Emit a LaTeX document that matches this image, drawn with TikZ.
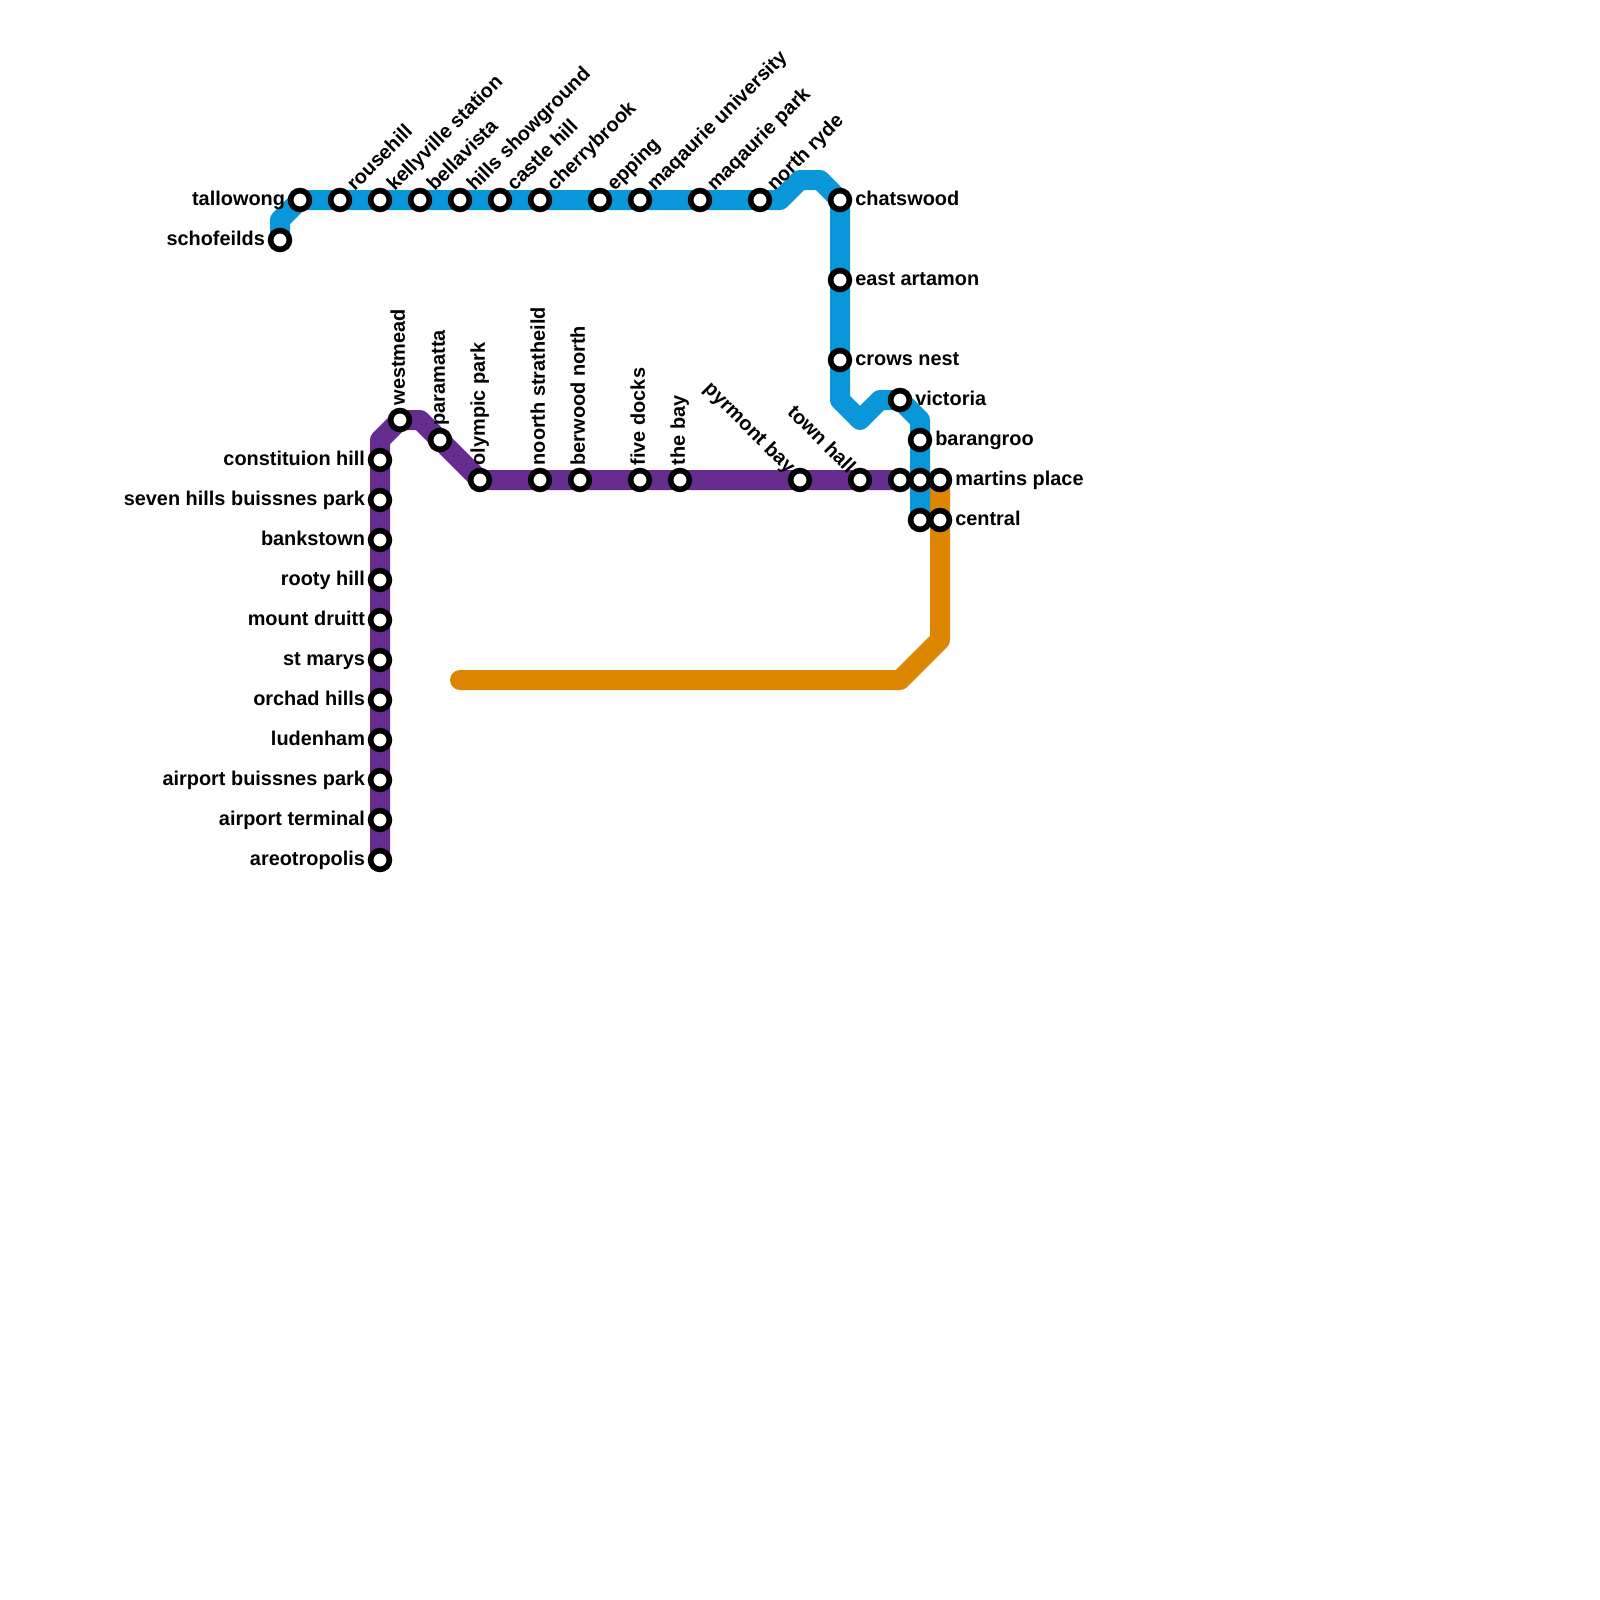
\documentclass[tikz,border=0pt]{standalone}
\usepackage{fontspec}
\setmainfont{Liberation Sans}
\usetikzlibrary{positioning, backgrounds}

\begin{document}
\begin{tikzpicture}[
    x=0.25cm, y=-0.25cm,
    every node/.style={font=\fontsize{7.08}{8}\selectfont\bfseries},
    st/.style={circle, draw=black, fill=white, line width=2pt, minimum size=0.235cm, inner sep=0pt},
    tag/.style={inner sep=0pt, text height=5.4pt, text depth=1.9pt},
    tagl/.style={tag, yshift=-0.15pt},
    tagr/.style={tag, yshift=-0.15pt},
    tagup/.style={tag, rotate=90, anchor=west},
    tagne/.style={tag, rotate=45, anchor=west, xshift=1.3pt, yshift=0.1pt},
    tagnw/.style={tag, rotate=-45, anchor=east},
    route/.style={line width=0.25cm, line join=round, line cap=round}
  ]
  \useasboundingbox (0,0) rectangle (80,80);
  \definecolor{bluel}{HTML}{0A97D9}
  \definecolor{purplel}{HTML}{662C90}
  \definecolor{orangel}{HTML}{DF8600}

  % North line
  \node[st] (tallowong) at (15,10) {};
  \node[tagl, left=0.8pt of tallowong] (tallowongt) {tallowong};
  \node[st] (schofeilds) at (14,12) {};
  \node[tagl, left=0.8pt of schofeilds] (schofeildst) {schofeilds};
  \node[st] (rousehill) at (17,10) {};
  \node[tagne] (rousehillt) at (rousehill.45) {rousehill};
  \node[st] (kellyville) at (19,10) {};
  \node[tagne] (kellyvillet) at (kellyville.45) {kellyville station};
  \node[st] (bellavista) at (21,10) {};
  \node[tagne] (bellavistat) at (bellavista.45) {bellavista};
  \node[st] (hills) at (23,10) {};
  \node[tagne] (hillst) at (hills.45) {hills showground};
  \node[st] (castlehill) at (25,10) {};
  \node[tagne] (castlehillt) at (castlehill.45) {castle hill};
  \node[st] (cherrybrook) at (27,10) {};
  \node[tagne] (cherrybrookt) at (cherrybrook.45) {cherrybrook};
  \node[st] (epping) at (30,10) {};
  \node[tagne] (eppingt) at (epping.45) {epping};
  \node[st] (maquni) at (32,10) {};
  \node[tagne] (maqunit) at (maquni.45) {maqaurie university};
  \node[st] (maqpark) at (35,10) {};
  \node[tagne] (maqparkt) at (maqpark.45) {maqaurie park};
  \node[st] (northryde) at (38,10) {};
  \node[tagne] (northrydet) at (northryde.45) {north ryde};
  \node[st] (chatswood) at (42,10) {};
  \node[tagr, right=0.9pt of chatswood] (chatswoodt) {chatswood};
  \node[st] (eastartamon) at (42,14) {};
  \node[tagr, right=0.9pt of eastartamon] (eastartamont) {east artamon};
  \node[st] (crowsnest) at (42,18) {};
  \node[tagr, right=0.9pt of crowsnest] (crowsnestt) {crows nest};
  \node[st] (victoria) at (45,20) {};
  \node[tagr, right=0.9pt of victoria] (victoriat) {victoria};
  \node[st] (barangroo) at (46,22) {};
  \node[tagr, right=0.9pt of barangroo] (barangroot) {barangroo};
  \node[st] (martinsb) at (46,24) {};
  \node[st] (centralb) at (46,26) {};

  % City line
  \node[st] (martins) at (47,24) {};
  \node[tagr, right=0.9pt of martins] (martinst) {martins place};
  \node[st] (central) at (47,26) {};
  \node[tagr, right=0.9pt of central] (centralt) {central};

  % West line
  \node[st] (westmead) at (20,21) {};
  \node[above=0.7pt of westmead, tagup] (westmeadt) {westmead};
  \node[st] (paramatta) at (22,22) {};
  \node[above=0.7pt of paramatta, tagup] (paramattat) {paramatta};
  \node[st] (olympicpark) at (24,24) {};
  \node[above=0.7pt of olympicpark, tagup] (olympicparkt) {olympic park};
  \node[st] (strathfield) at (27,24) {};
  \node[above=0.7pt of strathfield, tagup] (strathfieldt) {noorth stratheild};
  \node[st] (berwood) at (29,24) {};
  \node[above=0.7pt of berwood, tagup] (berwoodt) {berwood north};
  \node[st] (fivedocks) at (32,24) {};
  \node[above=0.7pt of fivedocks, tagup] (fivedockst) {five docks};
  \node[st] (thebay) at (34,24) {};
  \node[above=0.7pt of thebay, tagup] (thebayt) {the bay};
  \node[st] (pyrmont) at (40,24) {};
  \node[tagnw] (pyrmontt) at (pyrmont.135) {pyrmont bay};
  \node[st] (townhall) at (43,24) {};
  \node[tagnw] (townhallt) at (townhall.135) {town hall};
  \node[st] (martinsp) at (45,24) {};

  % Airport branch
  \node[st] (constituion) at (19,23) {};
  \node[tagl, left=0.8pt of constituion] (constituiont) {constituion hill};
  \node[st] (sevenhills) at (19,25) {};
  \node[tagl, left=0.8pt of sevenhills] (sevenhillst) {seven hills buissnes park};
  \node[st] (bankstown) at (19,27) {};
  \node[tagl, left=0.8pt of bankstown] (bankstownt) {bankstown};
  \node[st] (rootyhill) at (19,29) {};
  \node[tagl, left=0.8pt of rootyhill] (rootyhillt) {rooty hill};
  \node[st] (mountdruitt) at (19,31) {};
  \node[tagl, left=0.8pt of mountdruitt] (mountdruittt) {mount druitt};
  \node[st] (stmarys) at (19,33) {};
  \node[tagl, left=0.8pt of stmarys] (stmaryst) {st marys};
  \node[st] (orchadhills) at (19,35) {};
  \node[tagl, left=0.8pt of orchadhills] (orchadhillst) {orchad hills};
  \node[st] (ludenham) at (19,37) {};
  \node[tagl, left=0.8pt of ludenham] (ludenhamt) {ludenham};
  \node[st] (airportpark) at (19,39) {};
  \node[tagl, left=0.8pt of airportpark] (airportparkt) {airport buissnes park};
  \node[st] (terminal) at (19,41) {};
  \node[tagl, left=0.8pt of terminal] (terminalt) {airport terminal};
  \node[st] (areotropolis) at (19,43) {};
  \node[tagl, left=0.8pt of areotropolis] (areotropolist) {areotropolis};

  % Bends
  \coordinate (b1) at (14,11);
  \coordinate (b2) at (39,10);
  \coordinate (b3) at (40,9);
  \coordinate (b4) at (41,9);
  \coordinate (b5) at (42,20);
  \coordinate (b6) at (43,21);
  \coordinate (b7) at (44,20);
  \coordinate (b8) at (46,21);
  \coordinate (p1) at (19,22);
  \coordinate (p3) at (21,21);
  \coordinate (o1) at (23,34);
  \coordinate (o2) at (45,34);
  \coordinate (o3) at (47,32);

  % Lines
  \begin{scope}[on background layer]
    \draw[route, orangel] (o1) -- (o2) -- (o3) -- (central.center) -- (martins.center);
    \draw[route, purplel] (areotropolis.center) -- (p1) -- (westmead.center) -- (p3) -- (paramatta.center) -- (olympicpark.center) -- (martinsp.center);
    \draw[route, bluel] (schofeilds.center) -- (b1) -- (tallowong.center) -- (northryde.center) -- (b2) -- (b3) -- (b4) -- (chatswood.center) -- (b5) -- (b6) -- (b7) -- (victoria.center) -- (b8) -- (centralb.center);
  \end{scope}
\end{tikzpicture}
\end{document}
